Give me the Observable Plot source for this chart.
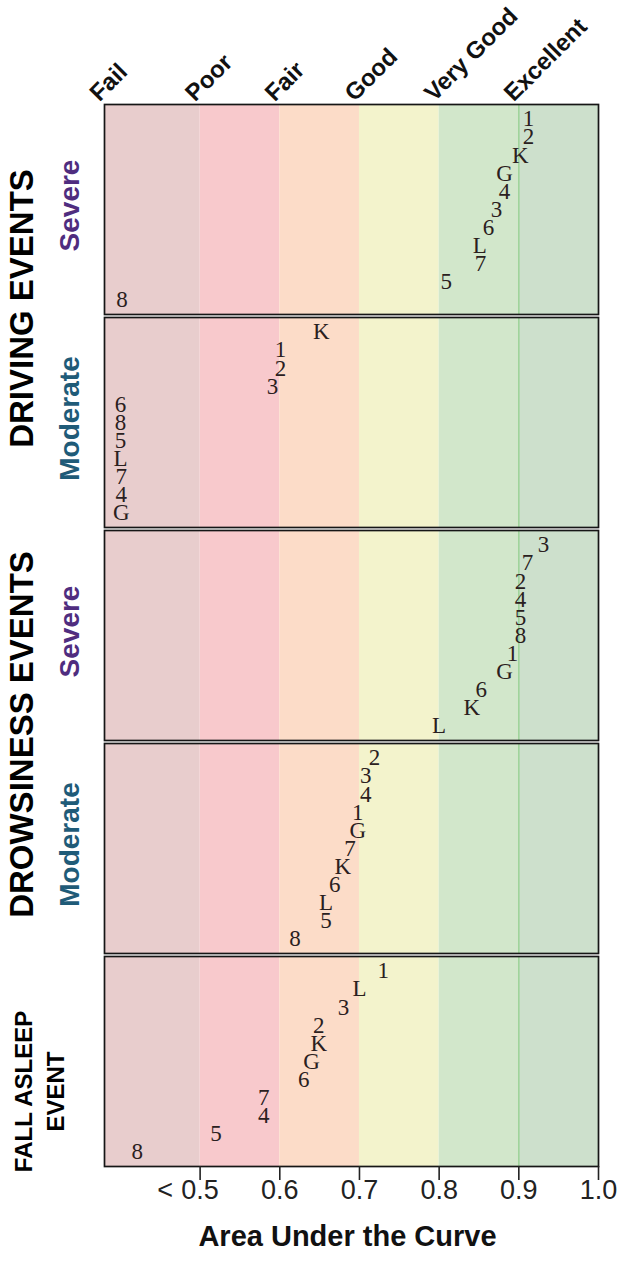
<!DOCTYPE html>
<html>
<head>
<meta charset="utf-8">
<script src="https://cdn.jsdelivr.net/npm/d3@7"></script>
<script src="https://cdn.jsdelivr.net/npm/@observablehq/plot@0.6"></script>
<style>
  html, body { margin: 0; padding: 0; background: #fff; }
  #chart { width: 620px; height: 1264px; }
</style>
</head>
<body>
<div id="chart"></div>
<script>
// ---- data ----
const panelNames = ["Driving Severe", "Driving Moderate", "Drowsiness Severe", "Drowsiness Moderate", "Fall Asleep"];
const panelSeverity = ["Severe", "Moderate", "Severe", "Moderate", ""];
const severityColors = {Severe: "#4f2d7f", Moderate: "#1f5b78"};

// labels listed top to bottom within each panel, with their AUC values
const drivingSevereIds = ["1", "2", "K", "G", "4", "3", "6", "L", "7", "5", "8"];
const drivingSevereAUC = [0.912, 0.912, 0.902, 0.882, 0.882, 0.872, 0.862, 0.851, 0.852, 0.809, 0.402];

const drivingModerateIds = ["K", "1", "2", "3", "6", "8", "5", "L", "7", "4", "G"];
const drivingModerateAUC = [0.652, 0.601, 0.601, 0.591, 0.400, 0.400, 0.400, 0.400, 0.401, 0.401, 0.401];

const drowsinessSevereIds = ["3", "7", "2", "4", "5", "8", "1", "G", "6", "K", "L"];
const drowsinessSevereAUC = [0.931, 0.911, 0.902, 0.902, 0.902, 0.902, 0.892, 0.882, 0.853, 0.841, 0.800];

const drowsinessModerateIds = ["2", "3", "4", "1", "G", "7", "K", "6", "L", "5", "8"];
const drowsinessModerateAUC = [0.719, 0.708, 0.708, 0.698, 0.698, 0.688, 0.679, 0.669, 0.658, 0.658, 0.619];

const fallAsleepIds = ["1", "L", "3", "2", "K", "G", "6", "7", "4", "5", "8"];
const fallAsleepAUC = [0.730, 0.700, 0.680, 0.649, 0.649, 0.640, 0.630, 0.580, 0.580, 0.520, 0.421];

const bandNames = ["Fail", "Poor", "Fair", "Good", "Very Good", "Excellent"];
const bandStarts = [0.38, 0.5, 0.6, 0.7, 0.8, 0.9];
const bandEnds = [0.5, 0.6, 0.7, 0.8, 0.9, 1.0];
const bandColors = ["#e8cdcd", "#f8c9cc", "#fcdcc8", "#f3f3cc", "#d2e7cb", "#cde0cc"];

const tickValues = [0.5, 0.6, 0.7, 0.8, 0.9, 1.0];
const tickLabels = ["0.5", "0.6", "0.7", "0.8", "0.9", "1.0"];
const tickPrefix = [{value: 0.5, text: "<"}];

const groupLabels = [
  {panel: "Driving Severe", text: "DRIVING EVENTS"},
  {panel: "Drowsiness Severe", text: "DROWSINESS EVENTS"}
];
const fallLabel = "FALL ASLEEP\nEVENT";
const axisTitle = "Area Under the Curve";

// ---- build tables ----
const perPanel = [
  [drivingSevereIds, drivingSevereAUC],
  [drivingModerateIds, drivingModerateAUC],
  [drowsinessSevereIds, drowsinessSevereAUC],
  [drowsinessModerateIds, drowsinessModerateAUC],
  [fallAsleepIds, fallAsleepAUC]
];
const points = perPanel.flatMap(([ids, aucs], p) =>
  ids.map((id, i) => ({panel: panelNames[p], id, auc: aucs[i], rank: i + 1}))
);
const bands = bandNames.map((name, i) => ({name, start: bandStarts[i], end: bandEnds[i], color: bandColors[i]}));
const severities = panelNames.map((panel, i) => ({panel, text: panelSeverity[i], color: severityColors[panelSeverity[i]] || "#000"}))
  .filter(d => d.text);
const ticks = tickValues.map((v, i) => ({value: v, text: tickLabels[i]}));

const SANS = "Liberation Sans, Arial, Helvetica, sans-serif";
const SERIF = "Liberation Serif, Times New Roman, serif";
const TOP = panelNames[0];
const BOTTOM = panelNames[panelNames.length - 1];

const chart = Plot.plot({
  width: 620,
  height: 1264,
  marginLeft: 104,
  marginRight: 22,
  marginTop: 103,
  marginBottom: 96,
  style: {fontFamily: SANS, background: "#fff", overflow: "visible"},
  x: {domain: [0.38, 1.0], axis: null},
  y: {domain: [11.8, 0.2], axis: null},
  fy: {domain: panelNames, padding: 0.012, axis: null},
  marks: [
    Plot.rect(bands, {x1: "start", x2: "end", fill: "color"}),
    Plot.ruleX([0.9], {stroke: "#9fd49a", strokeWidth: 1.6}),
    Plot.frame({stroke: "#161616", strokeWidth: 1.7}),
    Plot.text(points, {
      x: "auc", y: "rank", fy: "panel", text: "id",
      fontFamily: SERIF, fontSize: 23, fill: "#2a2020"
    }),
    // quality headers above the top panel
    Plot.text(bands, {
      x: "start", fy: () => TOP, text: "name",
      frameAnchor: "top", textAnchor: "start", lineAnchor: "bottom",
      rotate: -45, dx: -5, dy: -2,
      fontFamily: SANS, fontWeight: "bold", fontSize: 24, fill: "#111"
    }),
    // severity labels
    Plot.text(severities, {
      fy: "panel", text: "text", fill: "color",
      frameAnchor: "left", textAnchor: "middle", lineAnchor: "middle",
      rotate: -90, dx: -34, dy: -4,
      fontFamily: SANS, fontWeight: "bold", fontSize: 28
    }),
    // group labels
    Plot.text(groupLabels, {
      fy: "panel", text: "text",
      frameAnchor: "bottom-left", textAnchor: "middle", lineAnchor: "middle",
      rotate: -90, dx: -82, dy: -6,
      fontFamily: SANS, fontWeight: "bold", fontSize: 33, fill: "#000"
    }),
    Plot.text([fallLabel], {
      fy: () => BOTTOM, text: d => d,
      frameAnchor: "left", textAnchor: "middle", lineAnchor: "middle",
      rotate: -90, dx: -67, dy: 30, lineHeight: 1.35,
      fontFamily: SANS, fontWeight: "bold", fontSize: 24, fill: "#000"
    }),
    // x axis
    Plot.axisX({ticks: tickValues, tickSize: 14, tickFormat: () => "", stroke: "#222", strokeWidth: 1.6, label: null}),
    Plot.text(ticks, {
      x: "value", fy: () => BOTTOM, text: "text",
      frameAnchor: "bottom", lineAnchor: "top", dy: 13,
      fontFamily: SANS, fontSize: 27, fill: "#222"
    }),
    Plot.text(tickPrefix, {
      x: "value", fy: () => BOTTOM, text: "text",
      frameAnchor: "bottom", lineAnchor: "top", textAnchor: "end", dy: 13, dx: -27,
      fontFamily: SANS, fontSize: 27, fill: "#222"
    }),
    Plot.text([axisTitle], {
      fy: () => BOTTOM, text: d => d,
      frameAnchor: "bottom", lineAnchor: "middle", dy: 70, dx: -4,
      fontFamily: SANS, fontWeight: "bold", fontSize: 29, fill: "#111"
    })
  ]
});
document.getElementById("chart").appendChild(chart);
</script>
</body>
</html>
